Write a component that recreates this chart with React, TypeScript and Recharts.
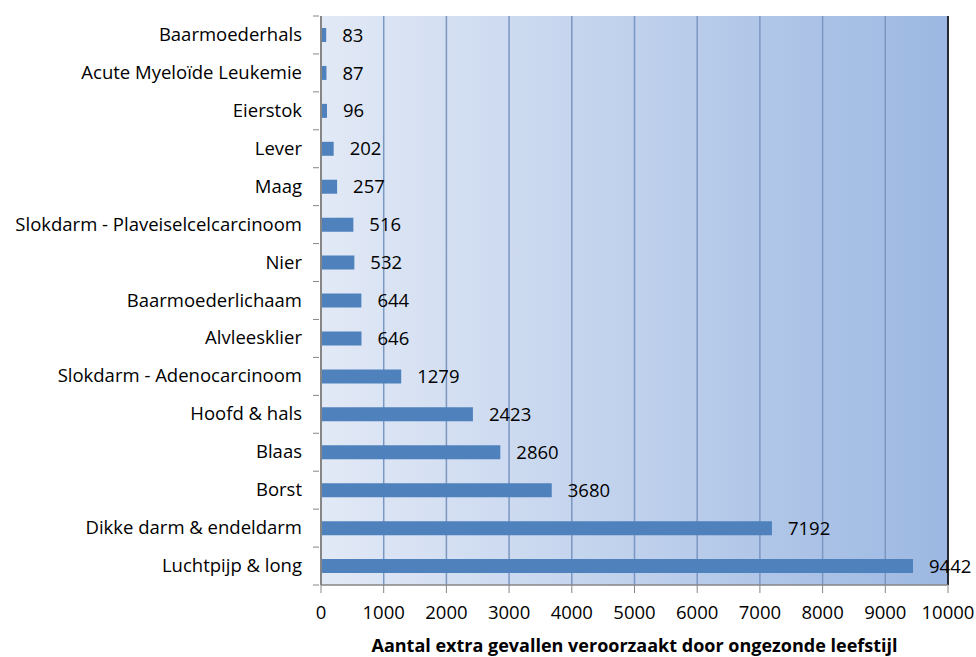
import React from 'react';
import {
  BarChart,
  Bar,
  XAxis,
  YAxis,
  CartesianGrid,
  LabelList,
  ReferenceLine,
} from 'recharts';

const categories = [
  'Baarmoederhals',
  'Acute Myeloïde Leukemie',
  'Eierstok',
  'Lever',
  'Maag',
  'Slokdarm - Plaveiselcelcarcinoom',
  'Nier',
  'Baarmoederlichaam',
  'Alvleesklier',
  'Slokdarm - Adenocarcinoom',
  'Hoofd & hals',
  'Blaas',
  'Borst',
  'Dikke darm & endeldarm',
  'Luchtpijp & long',
];
const values = [83, 87, 96, 202, 257, 516, 532, 644, 646, 1279, 2423, 2860, 3680, 7192, 9442];
const xTicks = [0, 1000, 2000, 3000, 4000, 5000, 6000, 7000, 8000, 9000, 10000];

const data = categories.map((name, i) => ({ name, value: values[i] }));

const FONT = '"Open Sans", sans-serif';
const FS = 18.5;
const WIDTH = 976;
const HEIGHT = 657;
const MARGIN = { top: 16, right: 28, bottom: 0, left: 0 };
const X_AXIS_HEIGHT = 72;
const PLOT_H = HEIGHT - MARGIN.top - MARGIN.bottom - X_AXIS_HEIGHT;
const BAND = PLOT_H / categories.length;

const CategoryTick = (props: any) => {
  const { x, y, payload, index } = props;
  const ax = x + 6;
  return (
    <g>
      <line x1={ax - 6} x2={ax} y1={y - BAND / 2} y2={y - BAND / 2} stroke="#868686" />
      {index === categories.length - 1 && (
        <line x1={ax - 6} x2={ax} y1={y + BAND / 2} y2={y + BAND / 2} stroke="#868686" />
      )}
      <text x={ax - 17} y={y} dy={6} textAnchor="end" fontSize={FS} fill="#000" fontFamily={FONT}>
        {payload.value}
      </text>
    </g>
  );
};

export default function App() {
  return (
    <div style={{ position: 'absolute', left: 0, top: 0, background: '#fff' }}>
      <BarChart
        width={WIDTH}
        height={HEIGHT}
        data={data}
        layout="vertical"
        margin={MARGIN}
        barSize={14}
        style={{ fontFamily: FONT }}
      >
        <defs>
          <linearGradient id="plotBg" x1="0" y1="0" x2="1" y2="0">
            <stop offset="0%" stopColor="#e2e9f6" />
            <stop offset="100%" stopColor="#9cb8e2" />
          </linearGradient>
        </defs>
        <CartesianGrid
          horizontal={false}
          stroke="#7a96c2"
          strokeWidth={1.5}
          fill="url(#plotBg)"
          fillOpacity={1}
        />
        <XAxis
          type="number"
          domain={[0, 10000]}
          ticks={xTicks}
          interval={0}
          height={X_AXIS_HEIGHT}
          axisLine={{ stroke: '#868686', strokeWidth: 1.5 }}
          tickLine={{ stroke: '#868686' }}
          tickSize={8}
          tickMargin={13}
          tick={{ fontSize: FS, fill: '#000', fontFamily: FONT }}
          label={{
            value: 'Aantal extra gevallen veroorzaakt door ongezonde leefstijl',
            position: 'insideBottom',
            offset: 5,
            fontSize: 18,
            fontWeight: 700,
            fill: '#000',
            fontFamily: FONT,
          }}
        />
        <XAxis
          xAxisId="top"
          orientation="top"
          type="number"
          domain={[0, 10000]}
          height={0}
          tick={false}
          tickLine={false}
          axisLine={{ stroke: '#000', strokeWidth: 1.5 }}
        />
        <YAxis
          type="category"
          dataKey="name"
          width={321}
          interval={0}
          axisLine={{ stroke: '#868686', strokeWidth: 2 }}
          tickLine={false}
          tick={<CategoryTick />}
        />
        <ReferenceLine x={10000} stroke="#000" strokeWidth={1.5} />
        <Bar dataKey="value" fill="#4f81bd" isAnimationActive={false}>
          <LabelList
            dataKey="value"
            position="right"
            offset={16}
            fontSize={FS}
            fill="#000"
            fontFamily={FONT}
          />
        </Bar>
      </BarChart>
    </div>
  );
}
